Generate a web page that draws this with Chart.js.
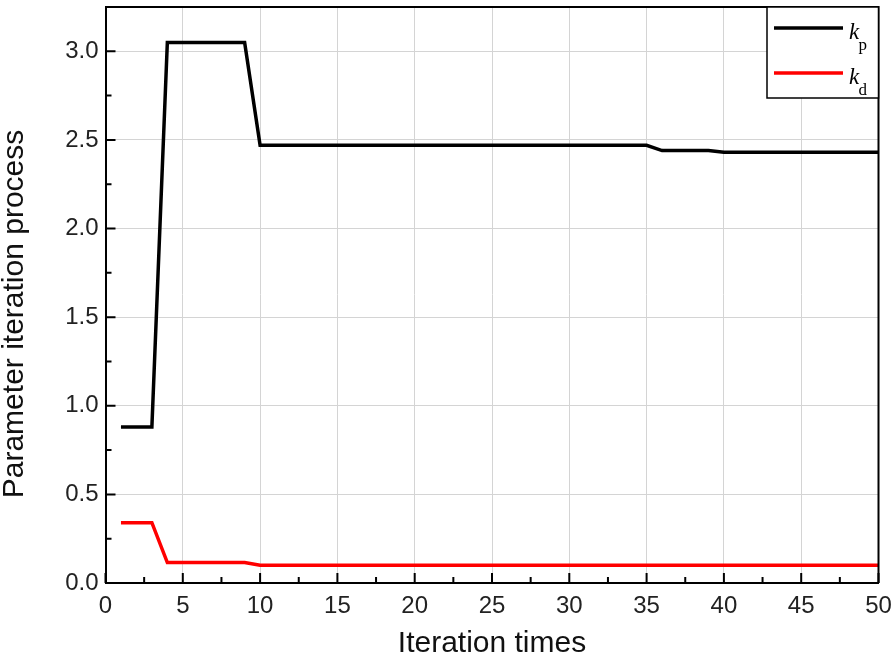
<!DOCTYPE html>
<html>
<head>
<meta charset="utf-8">
<script src="https://cdn.jsdelivr.net/npm/chart.js@4.4.1/dist/chart.umd.min.js"></script>
<style>
  html, body { margin: 0; padding: 0; background: #fff; }
  #wrap { width: 896px; height: 663px; }
</style>
</head>
<body>
<div id="wrap"><canvas id="paramChart" width="896" height="663"></canvas></div>
<script>
// iteration index and the two tuned gains
const iterations = [1, 2, 3, 4, 5, 6, 7, 8, 9, 10,
  11, 12, 13, 14, 15, 16, 17, 18, 19, 20,
  21, 22, 23, 24, 25, 26, 27, 28, 29, 30,
  31, 32, 33, 34, 35, 36, 37, 38, 39, 40,
  41, 42, 43, 44, 45, 46, 47, 48, 49, 50];
const kp = [0.88, 0.88, 0.88, 3.05, 3.05, 3.05, 3.05, 3.05, 3.05, 2.47,
  2.47, 2.47, 2.47, 2.47, 2.47, 2.47, 2.47, 2.47, 2.47, 2.47,
  2.47, 2.47, 2.47, 2.47, 2.47, 2.47, 2.47, 2.47, 2.47, 2.47,
  2.47, 2.47, 2.47, 2.47, 2.47, 2.44, 2.44, 2.44, 2.44, 2.43,
  2.43, 2.43, 2.43, 2.43, 2.43, 2.43, 2.43, 2.43, 2.43, 2.43];
const kd = [0.34, 0.34, 0.34, 0.115, 0.115, 0.115, 0.115, 0.115, 0.115, 0.10,
  0.10, 0.10, 0.10, 0.10, 0.10, 0.10, 0.10, 0.10, 0.10, 0.10,
  0.10, 0.10, 0.10, 0.10, 0.10, 0.10, 0.10, 0.10, 0.10, 0.10,
  0.10, 0.10, 0.10, 0.10, 0.10, 0.10, 0.10, 0.10, 0.10, 0.10,
  0.10, 0.10, 0.10, 0.10, 0.10, 0.10, 0.10, 0.10, 0.10, 0.10];
const seriesNames = ['kp', 'kd'];
const seriesColors = ['#000000', '#ff0000'];

// ticks
const xTicks = [0, 5, 10, 15, 20, 25, 30, 35, 40, 45, 50];
const xMinorTicks = [2.5, 7.5, 12.5, 17.5, 22.5, 27.5, 32.5, 37.5, 42.5, 47.5];
const yTicks = [0, 0.5, 1.0, 1.5, 2.0, 2.5, 3.0];
const yMinorTicks = [0.25, 0.75, 1.25, 1.75, 2.25, 2.75];

const xTitle = 'Iteration times';
const yTitle = 'Parameter iteration process';

const sansFont = '"Liberation Sans", Arial, sans-serif';
const serifFont = '"Liberation Serif", "Times New Roman", serif';

const framePlugin = {
    id: 'frame',
    afterDatasetsDraw(chart) {
        const {ctx, chartArea: a, scales: {x, y}} = chart;
        ctx.save();
        ctx.strokeStyle = '#000';
        ctx.lineWidth = 2;

        // ticks pointing into the plot
        ctx.beginPath();
        xTicks.forEach(v => {
            const px = x.getPixelForValue(v);
            ctx.moveTo(px, a.bottom);
            ctx.lineTo(px, a.bottom - 10);
        });
        xMinorTicks.forEach(v => {
            const px = x.getPixelForValue(v);
            ctx.moveTo(px, a.bottom);
            ctx.lineTo(px, a.bottom - 6);
        });
        yTicks.forEach(v => {
            const py = y.getPixelForValue(v);
            ctx.moveTo(a.left, py);
            ctx.lineTo(a.left + 10, py);
        });
        yMinorTicks.forEach(v => {
            const py = y.getPixelForValue(v);
            ctx.moveTo(a.left, py);
            ctx.lineTo(a.left + 6, py);
        });
        ctx.stroke();

        // top and right edge of the box
        ctx.beginPath();
        ctx.moveTo(a.left, a.top);
        ctx.lineTo(a.right, a.top);
        ctx.lineTo(a.right, a.bottom);
        ctx.stroke();

        // y title (sits a bit below the axis centre in the original)
        ctx.save();
        ctx.translate(15, 314);
        ctx.rotate(-Math.PI / 2);
        ctx.fillStyle = '#111';
        ctx.font = '30px ' + sansFont;
        ctx.textAlign = 'center';
        ctx.textBaseline = 'middle';
        ctx.fillText(yTitle, 0, 0);
        ctx.restore();

        // legend box in the top right corner
        const boxLeft = a.right - 111.5;
        const boxBottom = a.top + 91;
        ctx.fillStyle = '#fff';
        ctx.fillRect(boxLeft, a.top, a.right - boxLeft, boxBottom - a.top);
        ctx.lineWidth = 1.5;
        ctx.strokeRect(boxLeft, a.top, a.right - boxLeft, boxBottom - a.top);

        chart.data.datasets.forEach((ds, i) => {
            const rowY = a.top + 21 + i * 45;
            ctx.beginPath();
            ctx.strokeStyle = ds.borderColor;
            ctx.lineWidth = 3.5;
            ctx.moveTo(a.right - 104.5, rowY);
            ctx.lineTo(a.right - 35.5, rowY);
            ctx.stroke();

            ctx.fillStyle = '#000';
            ctx.textAlign = 'left';
            ctx.textBaseline = 'alphabetic';
            ctx.font = 'italic 23px ' + serifFont;
            ctx.fillText(ds.label.charAt(0), a.right - 29.5, rowY + 11);
            ctx.font = '17px ' + serifFont;
            ctx.fillText(ds.label.slice(1), a.right - 20, rowY + 22);
        });

        ctx.restore();
    }
};

const makeSeries = (values) => iterations.map((it, i) => ({x: it, y: values[i]}));

const ctx = document.getElementById('paramChart').getContext('2d');
const paramChart = new Chart(ctx, {
    type: 'line',
    data: {
        datasets: [{
            label: seriesNames[0],
            data: makeSeries(kp),
            borderColor: seriesColors[0],
            borderWidth: 3.5,
            pointRadius: 0,
            tension: 0,
            fill: false
        }, {
            label: seriesNames[1],
            data: makeSeries(kd),
            borderColor: seriesColors[1],
            borderWidth: 3.5,
            pointRadius: 0,
            tension: 0,
            fill: false
        }]
    },
    options: {
        responsive: false,
        animation: false,
        events: [],
        layout: {
            padding: {top: 7, right: 17.5, left: 0, bottom: 0}
        },
        plugins: {
            legend: {display: false},
            tooltip: {enabled: false}
        },
        scales: {
            x: {
                type: 'linear',
                min: 0,
                max: 50,
                afterBuildTicks: (s) => { s.ticks = xTicks.map(v => ({value: v})); },
                afterFit: (s) => {
                    s.height = 80;
                    s.paddingLeft = 0;
                    s.paddingRight = 0;
                },
                grid: {
                    color: (c) => (c.tick && (c.tick.value === 0 || c.tick.value === 50)) ? 'rgba(0,0,0,0)' : '#d4d4d4',
                    lineWidth: 1,
                    drawTicks: false
                },
                border: {color: '#000', width: 2},
                ticks: {
                    padding: 9,
                    color: '#222',
                    maxRotation: 0,
                    autoSkip: false,
                    font: {family: sansFont, size: 24}
                },
                title: {
                    display: true,
                    text: xTitle,
                    color: '#111',
                    font: {family: sansFont, size: 30, lineHeight: 1},
                    padding: {top: 0, bottom: 4}
                }
            },
            y: {
                type: 'linear',
                min: 0,
                max: 3.25,
                afterBuildTicks: (s) => { s.ticks = yTicks.map(v => ({value: v})); },
                afterFit: (s) => {
                    s.width = 105.5;
                    s.paddingTop = 0;
                    s.paddingBottom = 0;
                },
                grid: {
                    color: (c) => (c.tick && c.tick.value === 0) ? 'rgba(0,0,0,0)' : '#d4d4d4',
                    lineWidth: 1,
                    drawTicks: false
                },
                border: {color: '#000', width: 2},
                ticks: {
                    padding: 7,
                    color: '#222',
                    font: {family: sansFont, size: 24},
                    callback: (v) => Number(v).toFixed(1)
                }
            }
        }
    },
    plugins: [framePlugin]
});
</script>
</body>
</html>
